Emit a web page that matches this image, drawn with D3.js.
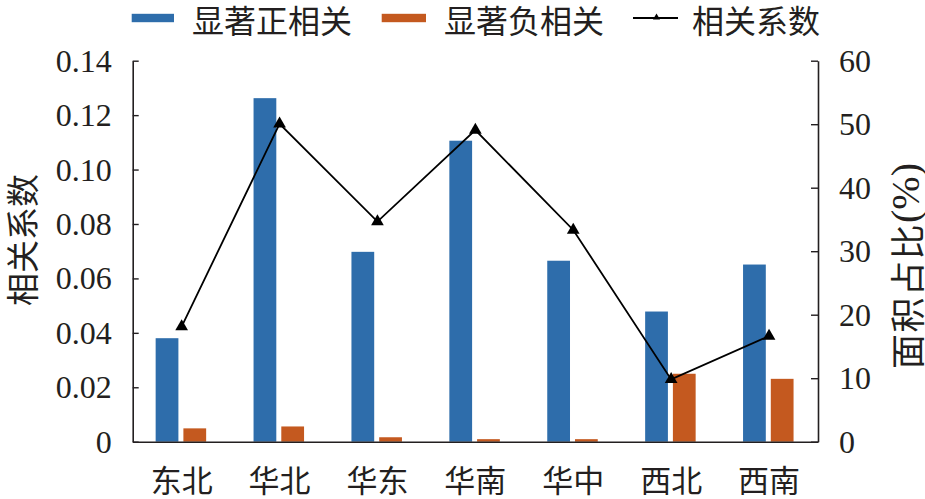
<!DOCTYPE html>
<html>
<head>
<meta charset="utf-8">
<script src="https://cdn.jsdelivr.net/npm/d3@7"></script>
<style>
  html, body { margin: 0; padding: 0; background: #fff; }
  svg { display: block; }
</style>
</head>
<body>
<svg id="chart" width="925" height="499"></svg>
<script>
// ---- data ----
const categories = ["东北", "华北", "华东", "华南", "华中", "西北", "西南"];
const positiveArea = [16.3, 54.1, 29.9, 47.4, 28.5, 20.5, 27.9];   // 显著正相关 (%), right axis
const negativeArea = [2.1, 2.4, 0.7, 0.4, 0.4, 10.7, 9.9];         // 显著负相关 (%), right axis
const corrCoef = [0.0423, 0.1168, 0.0809, 0.1145, 0.0778, 0.0229, 0.0388]; // 相关系数, left axis
const leftTicks = [0, 0.02, 0.04, 0.06, 0.08, 0.10, 0.12, 0.14];
const rightTicks = [0, 10, 20, 30, 40, 50, 60];
const seriesNames = ["显著正相关", "显著负相关", "相关系数"];

// ---- layout ----
const W = 925, H = 499;
const L = 132.7, R = 818, T = 60.7, B = 441.7;
const blue = "#2E6DAB", orange = "#C4591F", ink = "#231F20";
const cjk = "'Noto Sans CJK SC', 'Noto Sans', sans-serif";
const serif = "'Liberation Serif', 'Times New Roman', serif";

const svg = d3.select("#chart");

const x = d3.scaleBand().domain(categories).range([L, R]).padding(0);
const sub = d3.scaleBand().domain(["pos", "neg"]).range([-26, 24.5]).paddingInner(0.18);
const yL = d3.scaleLinear().domain([0, 0.14]).range([B, T]);
const yR = d3.scaleLinear().domain([0, 60]).range([B, T]);

// bars
const barData = [];
categories.forEach((c, i) => {
  barData.push({ c, key: "pos", v: positiveArea[i], color: blue });
  barData.push({ c, key: "neg", v: negativeArea[i], color: orange });
});
svg.append("g").selectAll("rect").data(barData).join("rect")
  .attr("x", d => x(d.c) + x.bandwidth() / 2 + sub(d.key))
  .attr("width", sub.bandwidth())
  .attr("y", d => yR(d.v))
  .attr("height", d => B - yR(d.v))
  .attr("fill", d => d.color);

// line
const pts = categories.map((c, i) => [x(c) + x.bandwidth() / 2, yL(corrCoef[i])]);
svg.append("path")
  .attr("d", d3.line()(pts))
  .attr("fill", "none").attr("stroke", "#000").attr("stroke-width", 1.8);
svg.append("g").selectAll("path").data(pts).join("path")
  .attr("transform", d => `translate(${d[0]},${d[1]})`)
  .attr("d", d3.symbol(d3.symbolTriangle, 70))
  .attr("fill", "#000");

// axes
const axL = svg.append("g").attr("transform", `translate(${L},0)`)
  .call(d3.axisLeft(yL).tickValues(leftTicks)
    .tickFormat(d => d === 0 ? "0" : d.toFixed(2))
    .tickSizeInner(-6).tickSizeOuter(0).tickPadding(21));
const axR = svg.append("g").attr("transform", `translate(${R},0)`)
  .call(d3.axisRight(yR).tickValues(rightTicks)
    .tickFormat(d3.format("d"))
    .tickSizeInner(-7).tickSizeOuter(0).tickPadding(21));
const axB = svg.append("g").attr("transform", `translate(0,${B})`)
  .call(d3.axisBottom(x).tickSize(0).tickPadding(0));

[axL, axR, axB].forEach(g => {
  g.select(".domain").attr("stroke", ink).attr("stroke-width", 1.6);
  g.selectAll(".tick line").attr("stroke", ink).attr("stroke-width", 1.4);
});
[axL, axR].forEach(g => {
  g.selectAll(".tick text").attr("font-family", serif).attr("font-size", 32)
    .attr("fill", ink).attr("dy", "0.33em");
});
axB.selectAll(".tick text").attr("font-family", cjk).attr("font-size", 31)
  .attr("fill", ink).attr("dy", null).attr("y", 37)
  .attr("dominant-baseline", "central");

// axis titles
svg.append("text")
  .attr("transform", "translate(21,240) rotate(-90)")
  .attr("text-anchor", "middle").attr("dominant-baseline", "central")
  .attr("font-family", cjk).attr("font-size", 33).attr("fill", ink)
  .text("相关系数");
const rt = svg.append("text")
  .attr("transform", "translate(905,266) rotate(-90)")
  .attr("text-anchor", "middle").attr("dominant-baseline", "central")
  .attr("font-family", cjk).attr("font-size", 35).attr("fill", ink);
rt.append("tspan").attr("letter-spacing", 1.5).text("面积占比");
rt.append("tspan").attr("font-family", serif).attr("font-size", 40).text("(%)");

// legend
const lg = svg.append("g");
lg.append("rect").attr("x", 131.7).attr("y", 13.8).attr("width", 42.3).attr("height", 8.4).attr("fill", blue);
lg.append("text").attr("x", 192).attr("y", 18.5).attr("dominant-baseline", "central")
  .attr("font-family", cjk).attr("font-size", 32).attr("fill", ink).text(seriesNames[0]);
lg.append("rect").attr("x", 381.7).attr("y", 13.8).attr("width", 44.3).attr("height", 8.4).attr("fill", orange);
lg.append("text").attr("x", 444).attr("y", 18.5).attr("dominant-baseline", "central")
  .attr("font-family", cjk).attr("font-size", 32).attr("fill", ink).text(seriesNames[1]);
lg.append("line").attr("x1", 633).attr("x2", 678).attr("y1", 18).attr("y2", 18)
  .attr("stroke", "#000").attr("stroke-width", 1.8);
lg.append("path").attr("transform", "translate(656.5,17.5)")
  .attr("d", d3.symbol(d3.symbolTriangle, 22)).attr("fill", "#000");
lg.append("text").attr("x", 692).attr("y", 18.5).attr("dominant-baseline", "central")
  .attr("font-family", cjk).attr("font-size", 32).attr("fill", ink).text(seriesNames[2]);
</script>
</body>
</html>
